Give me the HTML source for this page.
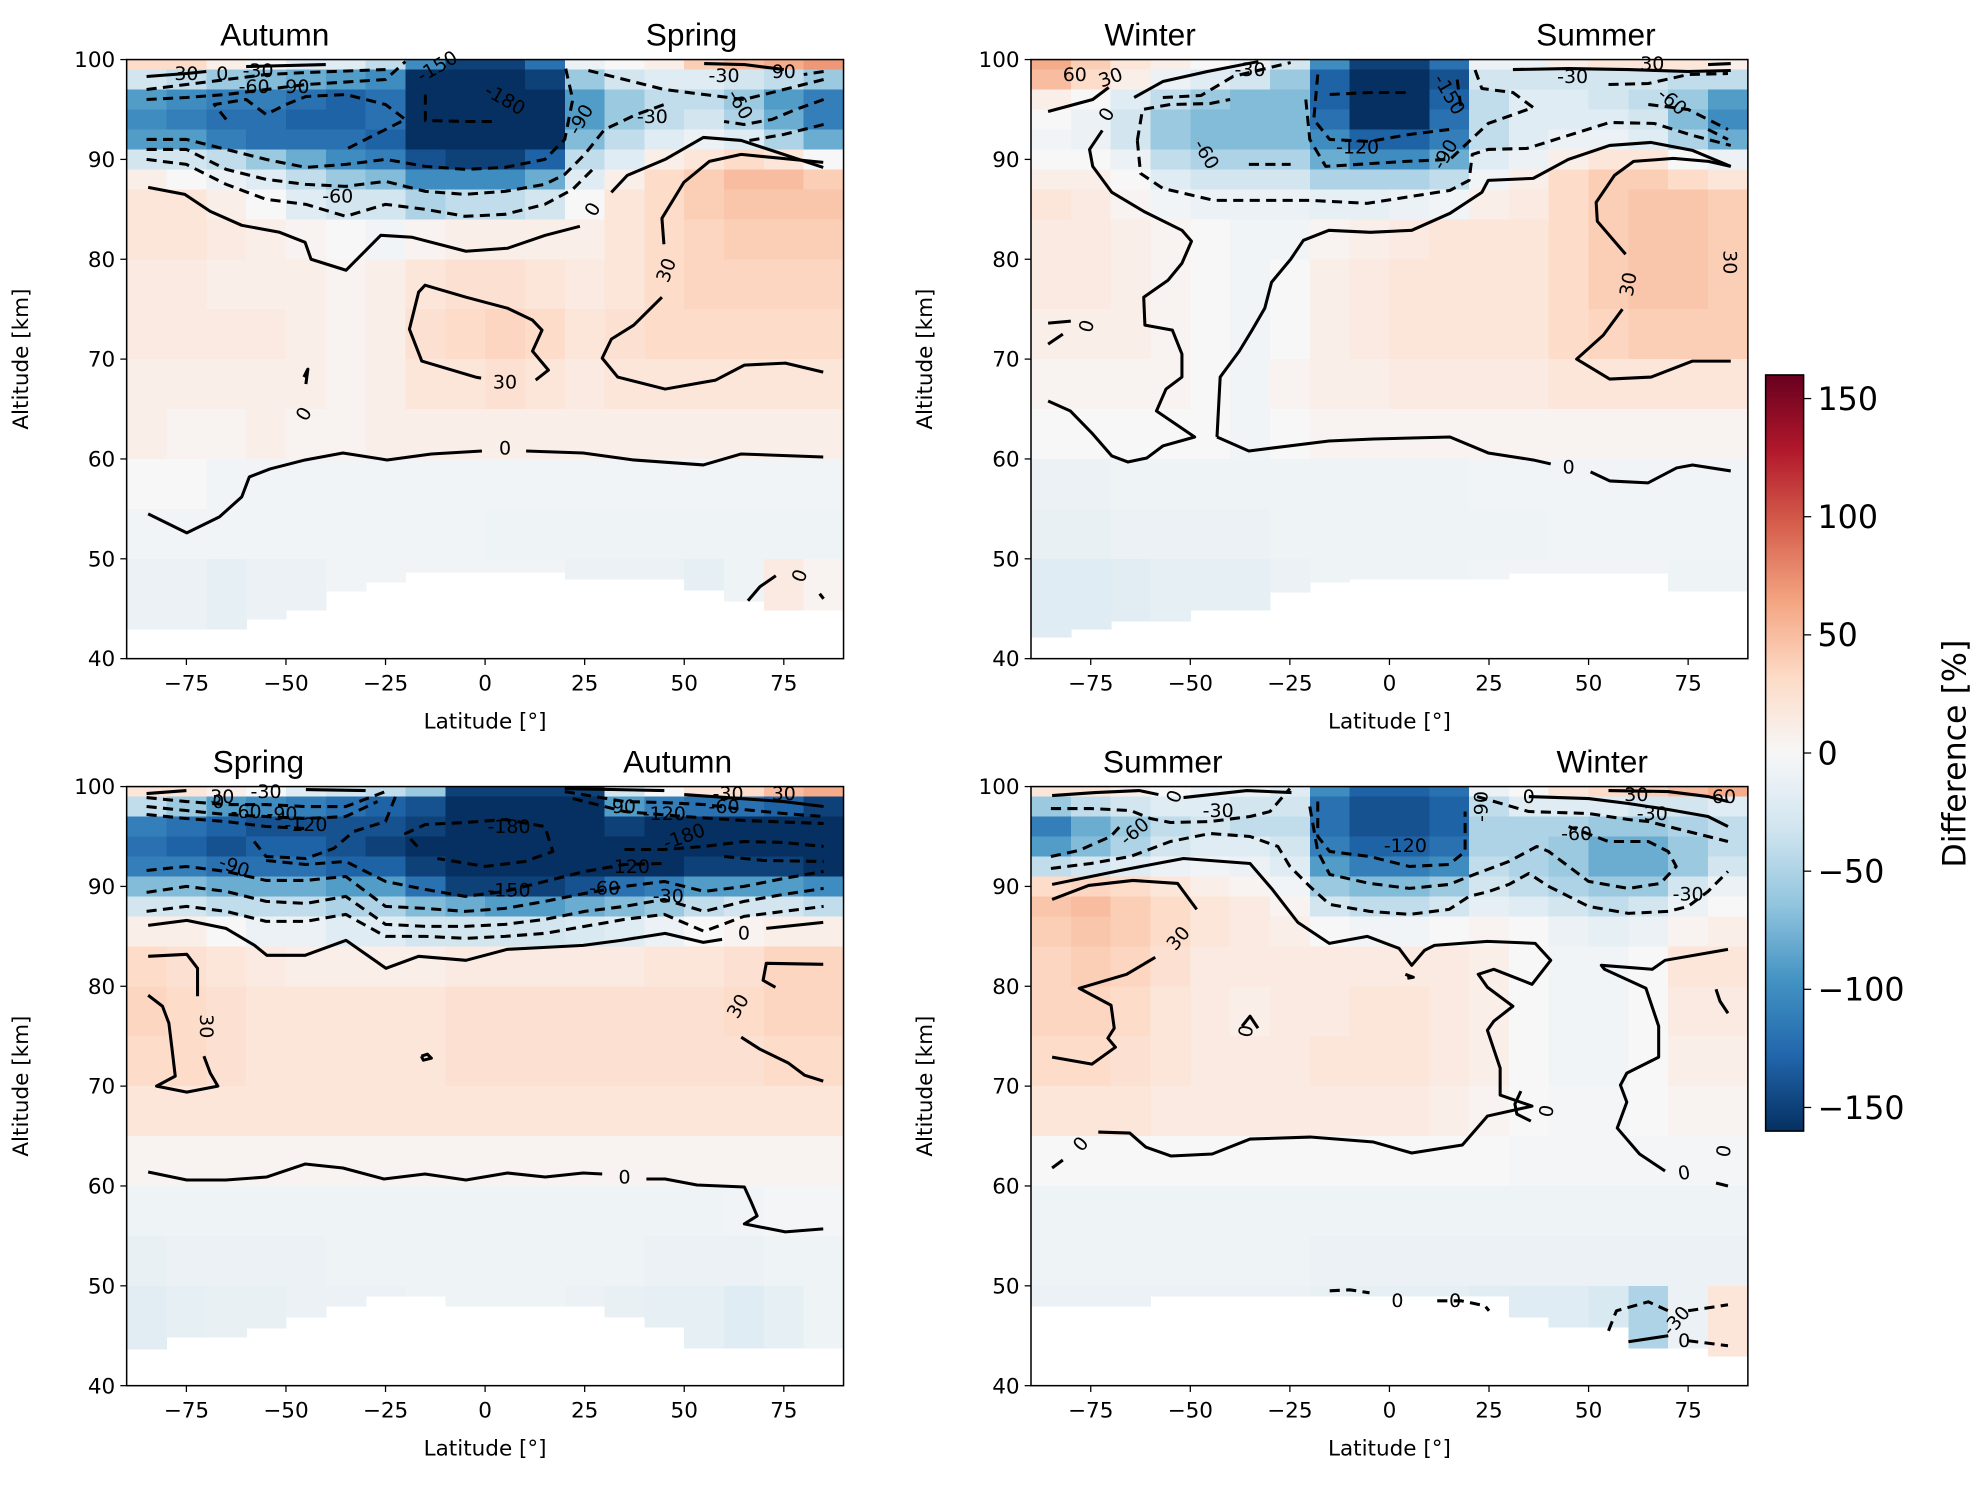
<!DOCTYPE html>
<html><head><meta charset="utf-8">
<style>
html,body{margin:0;padding:0;background:#fff;}
svg{display:block;}
text{font-family:"DejaVu Sans","Liberation Sans",sans-serif;}
</style></head>
<body>
<svg id="fig" width="1986" height="1485" viewBox="0 0 1568 1172.4" xmlns="http://www.w3.org/2000/svg"></svg>
<script>
// ---------- DATA ----------
const altEdges = [100,99,97,95,93,91,89,87,84,80,75,70,65,60,55,50,40];
const latEdges = [-90,-80,-70,-60,-50,-40,-30,-20,-10,0,10,20,30,40,50,60,70,80,90];
const xTicks = [-75,-50,-25,0,25,50,75];
const xTickLabels = ["\u221275","\u221250","\u221225","0","25","50","75"];
const yTicks = [40,50,60,70,80,90,100];
const cbTicks = [150,100,50,0,-50,-100,-150];
const cbTickLabels = ["150","100","50","0","\u221250","\u2212100","\u2212150"];

const minAltA = [43,43,43,44,44.9,46.8,47.7,48.7,48.7,48.7,48.7,48,48,48,46.9,45.8,44.9,44.9];
const minAltB = [42.2,43,43.8,43.8,44.9,44.9,46.7,47.7,48,48,48,48,48.6,48.6,48.6,48.6,46.8,46.8];
const minAltC = [43.7,44.9,44.9,45.8,46.9,48,49,49,48,48,48,48,46.9,45.9,43.8,43.8,43.8,43.8];
const minAltD = [48,48,48,49,49,49,49,49,49,49,49,49,46.9,45.9,45.9,43.8,43.8,43];

const valsA = [
[30,30,10,0,-20,-20,-40,-100,-150,-150,-120,-10,0,10,40,50,60,70],
[-30,-40,-60,-70,-80,-90,-100,-160,-180,-180,-150,-60,-30,-20,-20,-30,-40,-60],
[-90,-100,-110,-110,-120,-130,-120,-170,-190,-190,-170,-90,-60,-40,-40,-60,-90,-110],
[-100,-110,-120,-120,-130,-130,-120,-170,-190,-190,-170,-90,-60,-40,-30,-50,-80,-110],
[-90,-90,-110,-120,-120,-120,-130,-160,-180,-180,-160,-70,-40,-20,-10,-20,-50,-80],
[-30,-30,-40,-60,-80,-100,-110,-140,-150,-150,-130,-40,-20,10,20,30,20,0],
[10,0,-10,-20,-40,-60,-70,-100,-100,-100,-80,-20,10,30,40,50,50,40],
[20,20,10,0,-20,-30,-30,-50,-40,-40,-30,0,20,30,40,45,45,45],
[20,20,15,10,5,0,-5,5,10,10,10,10,20,30,35,40,40,40],
[15,15,10,10,10,5,10,20,25,25,20,15,20,30,35,35,35,35],
[15,15,15,15,10,5,10,25,30,35,30,20,25,30,30,30,30,30],
[10,10,10,10,10,5,10,20,20,25,20,15,20,20,20,20,20,20],
[10,5,5,10,5,5,10,10,10,10,10,10,10,10,10,10,10,10],
[0,0,-5,-5,-5,-5,-5,-5,-5,-5,-5,-5,-5,-5,-5,-5,-5,-5],
[-5,-5,-5,-5,-5,-5,-5,-5,-5,-8,-8,-8,-8,-8,-8,-8,-8,-8],
[-10,-10,-15,-10,-10,-5,-5,-5,-5,-5,-5,-10,-10,-10,-15,-8,15,5]];
const valsB = [
[60,40,20,10,0,-10,-30,-100,-150,-150,-120,-10,-10,10,20,20,20,10],
[50,30,10,-10,-20,-30,-60,-130,-170,-170,-140,-30,-30,-30,-30,-30,-40,-40],
[10,0,-20,-40,-60,-70,-70,-130,-170,-170,-130,-40,-20,-20,-30,-40,-60,-90],
[0,-10,-30,-60,-70,-70,-70,-120,-160,-160,-120,-40,-20,-20,-20,-30,-70,-100],
[-5,-10,-30,-60,-70,-70,-70,-100,-130,-130,-110,-40,-20,-10,-10,-20,-50,-80],
[0,0,-10,-40,-50,-50,-50,-80,-100,-100,-80,-20,-10,10,20,20,0,-10],
[10,10,0,-20,-30,-30,-30,-50,-50,-50,-40,-5,10,30,40,40,30,20],
[20,15,5,-5,-10,-10,-10,-15,-15,-10,-5,10,15,30,40,45,45,40],
[15,15,10,5,0,-5,-5,5,10,15,20,20,20,30,40,45,45,40],
[15,15,10,5,0,-5,0,10,15,20,20,20,20,30,40,45,45,40],
[10,10,10,5,0,-5,0,10,15,20,20,20,20,30,35,40,40,40],
[5,5,5,5,0,-5,5,10,10,15,15,15,15,20,20,20,20,20],
[0,0,0,0,0,-5,0,5,5,5,5,5,5,5,5,5,5,5],
[-10,-10,-8,-8,-8,-8,-8,-8,-8,-8,-8,-5,-5,-5,-5,-5,-5,-5],
[-12,-12,-10,-10,-10,-10,-8,-8,-8,-8,-8,-8,-8,-5,-5,-5,-5,-5],
[-20,-20,-18,-15,-15,-15,-10,-8,-8,-8,-8,-5,-5,-5,-5,-5,-8,-8]];
const valsC = [
[20,20,10,0,-20,-30,-40,-60,-150,-150,-150,-150,-30,0,20,30,50,60],
[-40,-60,-90,-100,-110,-120,-130,-140,-190,-190,-190,-190,-90,-110,-120,-120,-130,-150],
[-110,-120,-130,-140,-140,-140,-140,-150,-200,-200,-200,-200,-150,-160,-170,-170,-170,-170],
[-120,-130,-140,-130,-130,-140,-150,-160,-200,-200,-200,-200,-180,-180,-180,-180,-180,-180],
[-110,-110,-120,-120,-120,-130,-130,-150,-180,-190,-190,-180,-160,-160,-150,-150,-150,-160],
[-70,-70,-80,-80,-80,-90,-90,-120,-150,-150,-150,-140,-120,-110,-90,-90,-90,-100],
[-30,-30,-40,-40,-40,-50,-50,-70,-80,-90,-90,-80,-70,-60,-40,-30,-30,-40],
[10,10,0,-10,-10,-20,-20,-30,-30,-30,-30,-25,-20,-10,0,5,10,10],
[30,25,20,15,10,10,10,10,15,15,15,15,15,20,20,25,35,35],
[35,30,25,20,20,20,20,20,25,25,25,25,25,25,25,30,35,35],
[30,30,25,20,20,20,20,20,25,25,25,25,25,25,25,25,30,30],
[20,20,20,20,20,20,20,20,20,20,20,20,20,20,20,20,20,20],
[5,5,5,5,5,5,5,5,5,5,5,5,5,5,5,5,5,5],
[-8,-8,-8,-8,-8,-8,-8,-8,-8,-8,-8,-8,-8,-8,-8,-5,-3,-3],
[-12,-10,-10,-10,-10,-8,-8,-8,-8,-8,-8,-8,-8,-10,-10,-10,-8,-8],
[-18,-15,-12,-12,-10,-10,-10,-8,-8,-8,-8,-10,-12,-15,-15,-20,-15,-8]];
const valsD = [
[20,20,10,0,-10,-10,-20,-100,-130,-130,-120,-10,0,20,30,40,50,60],
[-60,-40,-30,-20,-20,-30,-30,-120,-140,-140,-130,-40,-20,-20,-20,-30,-30,-20],
[-110,-80,-60,-40,-30,-40,-40,-120,-140,-140,-130,-50,-50,-50,-60,-60,-50,-40],
[-90,-70,-50,-30,-20,-20,-30,-110,-130,-130,-120,-50,-50,-60,-80,-80,-60,-40],
[-40,-30,-20,-10,-5,-10,-20,-90,-110,-110,-100,-40,-50,-60,-80,-80,-60,-30],
[30,35,30,20,10,5,-5,-60,-70,-70,-60,-30,-40,-50,-60,-60,-30,-10],
[45,50,40,30,20,15,5,-30,-40,-40,-30,-15,-20,-30,-40,-30,-10,0],
[40,45,40,30,20,15,10,0,-5,-5,0,5,0,-10,-15,-10,5,10],
[35,40,35,25,15,15,15,15,15,15,15,10,0,-5,-5,0,20,20],
[35,35,30,20,15,10,15,15,20,20,15,10,0,-5,-5,0,15,15],
[30,30,25,20,15,15,15,20,20,20,15,10,0,-5,-5,0,10,10],
[20,20,20,15,15,15,15,15,15,15,10,5,0,-3,-3,0,5,5],
[0,0,0,0,0,0,0,0,0,0,0,0,-3,-3,-3,-3,-3,-3],
[-8,-8,-8,-8,-8,-8,-8,-8,-8,-8,-8,-8,-8,-8,-8,-8,-8,-8],
[-8,-8,-8,-8,-8,-8,-8,-10,-10,-10,-10,-10,-10,-10,-10,-10,-10,-10],
[-10,-10,-10,-10,-10,-10,-10,-12,-15,-15,-15,-18,-20,-20,-25,-50,-10,20]];

// contours: [lat, alt] points
const solidA = [
[[-84.6,54.5],[-74.9,52.6],[-66.7,54.2],[-61.1,56.2],[-59.2,58.2],[-54,59],[-45.2,59.9],[-35.7,60.6],[-24.6,59.9],[-13.5,60.5],[-0.8,60.8]],
[[10.3,60.8],[24.6,60.6],[37.3,59.9],[54.8,59.4],[64.3,60.5],[84.9,60.2]],
[[-84.6,87.2],[-75.4,86.5],[-69,84.8],[-61.1,83.4],[-51.6,82.7],[-45.2,81.7],[-43.7,80],[-34.9,78.9],[-26.2,82.4],[-18.3,82.2],[-4.8,80.8],[5.6,81.1],[15.1,82.4],[23.8,83.3]],
[[31.7,86.7],[35.7,88.4],[45.2,90],[54.8,92.2],[64.3,91.9],[84.9,89.2]],
[[-1,68.1],[-2.4,68.2],[-15.9,69.8],[-19,73],[-16.7,76.7],[-15.1,77.4],[-4.8,76.2],[5.6,75.1],[11.9,73.9],[14.3,72.9],[11.9,70.8],[15.9,68.9],[12.7,67.9]],
[[44.4,76.2],[37.3,73.4],[31.7,72],[29.4,70.1],[33.3,68.2],[45.2,67],[57.9,67.9],[65.1,69.4],[75.4,69.6],[84.9,68.7]],
[[44.9,81.5],[44.4,84.1],[49.9,87.7],[56.3,89.8],[64.3,90.5],[84.9,89.7]],
[[-85,98.3],[-75,98.6],[-70,98.8]],[[-60,99.3],[-40,99.5]],[[55,99.6],[65,99.5],[75,99]],
[[-45,67.5],[-44.5,69],[-45.5,68.2]],[[66,45.8],[69,47.2],[73,48.3]],[[84,46.5],[85,46]]];
const dashA = [
[[-85,91],[-75,91],[-65,89],[-55,88],[-45,87.5],[-35,87.3],[-25,87.8],[-15,86.8],[-5,86.5],[5,86.8],[15,87.5],[20,88.5],[25,90.5],[30,93],[38,94.5],[45,95.5]],
[[-85,90],[-75,89.5],[-65,87.5],[-55,86],[-45,85.5],[-35,84.3],[-25,85.5],[-15,85],[-5,84.3],[5,84.5],[15,85.5],[22,87],[27,89]],
[[-85,92],[-75,92],[-65,91],[-55,90],[-45,89.2],[-35,89.5],[-25,90],[-15,89.3],[-5,89],[5,89.2],[15,90],[20,92],[22,96],[20,99.5]],
[[-15,96.5],[-15,93.9],[-5,93.8],[3,93.8]],
[[-85,97],[-75,97.5],[-65,98],[-55,98.5],[-45,98.7],[-25,99]],
[[-85,96],[-75,96.2],[-65,96.5],[-55,97],[-45,97.5],[-25,98],[-20,99.8]],
[[-65,94],[-68,95.5],[-60,96],[-55,94.5],[-50,95.5],[-45,96.3],[-35,96.5],[-25,95.5],[-20,94],[-25,93],[-35,91]],
[[85,98],[75,97],[65,96],[55,96.5],[45,97],[35,98],[25,99]],
[[85,96],[78,95],[72,94],[65,93.5],[60,93.8]],[[85,93.5],[75,92.5],[65,91.8]],[[85,98.8],[80,98.5]]];
const solidB = [
[[-85.7,65.8],[-80.1,64.8],[-74.5,62.5],[-69.7,60.3],[-65.7,59.7],[-60.9,60.1],[-56.9,61.3],[-48.9,62.2],[-58.5,64.8],[-56.1,67],[-52.1,68.2],[-52.1,70.5],[-54.5,72.9],[-61.4,73.4],[-61.7,76.2],[-55.6,77.9],[-52.1,79.6],[-49.7,81.8],[-52.1,82.9],[-61.7,84.8],[-69.7,86.7],[-74.5,89.3],[-75.3,91],[-72.1,92.9]],
[[-64.1,96.2],[-56.9,97.8],[-45.7,98.8],[-32.9,99.8]],
[[-85.7,94.8],[-74.5,96],[-70.5,97.2]],[[-85.7,73.6],[-80,73.8]],
[[-43.3,62.2],[-35.3,60.8],[-15.2,61.8],[-4,62],[15.2,62.2],[24.8,60.6],[36.1,59.9],[40.5,59.5]],
[[50.5,58.7],[55.3,57.8],[64.9,57.6],[72.1,59.1],[76.1,59.4],[85.7,58.8]],
[[-43.3,62.2],[-42.5,68.2],[-37.7,70.8],[-34.5,72.9],[-31.3,75.1],[-29.6,77.7],[-24.8,80],[-21.6,81.9],[-15.2,82.9],[-4.8,82.7],[5.6,82.9],[15.2,84.6],[23.2,86.7],[24.8,87.9],[36.1,88.1],[44.9,90],[55.3,91.4],[65.7,91.7],[76.1,90.9],[85.7,89.3]],
[[85.7,69.8],[76.1,69.8],[65.7,68.2],[55.3,68],[47,70],[53.7,72.4],[58.5,75]],
[[59.3,80.5],[52.2,83.8],[51.9,85.7],[56.5,88.4],[61.3,89.8],[71.3,90.1],[80.1,89.8],[85.7,89.3]],
[[31,99],[45,99.1],[60,99],[75,98.8],[85.7,98.9]],[[80,99.5],[85.7,99.6]],[[-85.7,71.5],[-82,72.5]]];
const dashB = [
[[-63.3,91.9],[-62.5,88.6],[-56.9,87.1],[-44.1,85.9],[-20,85.9],[-5.6,85.6],[15.2,86.9],[20,87.9],[20.8,90.5],[24.8,91],[34.5,91.1],[44.9,92.4],[55.3,93.7],[66.5,93.6],[76.1,92.4],[85.7,91.4]],
[[-63.3,91.9],[-62,95],[-55,95.5],[-45,95.6],[-40,96]],
[[-56.9,96.2],[-47.3,96.4],[-39.3,98.3],[-24.8,99.7]],
[[-35.3,89.5],[-24.8,89.5]],[[-21,96],[-20,92],[-16,89.3],[4,89.8],[15.2,90],[21.6,92.4],[24.8,93.6],[36.1,95.2],[31,96.7],[23.2,97.1],[21,99.5]],
[[-18,98.5],[-19,94],[-15,92],[-5,91.8],[5,92.5],[15,93]],[[-15,96.5],[-5,96.7],[5,96.7]],[[17,98],[18,95]],
[[55,97.5],[65,97.6],[75,98.5],[85,98.6]],[[65,95.5],[75,95],[80,94],[85,93]],[[80,93],[85,92]]];
const solidC = [
[[-84.6,61.4],[-74.9,60.6],[-65.1,60.6],[-54.8,60.9],[-45.2,62.2],[-35.7,61.8],[-25.4,60.7],[-15.1,61.2],[-4.8,60.6],[5.6,61.3],[15.1,60.9],[24.6,61.3],[29.4,61.2]],
[[40.5,60.7],[45.2,60.7],[53.2,60.1],[65.1,59.9],[66.7,58.5],[68.3,57],[65.1,56.2],[75.4,55.4],[84.9,55.7]],
[[-84.6,86.1],[-74.9,86.6],[-65.1,85.8],[-57.9,84.1],[-54.8,83.1],[-45.2,83.1],[-34.9,84.6],[-24.9,81.8],[-16.7,83],[-4.8,82.6],[5.6,83.7],[15.1,83.9],[24.6,84.1],[34.1,84.6],[45.2,85.3],[54.8,84.4],[59.5,84.7]],
[[70.6,85.8],[84.9,86.4]],
[[-84.6,83],[-74.9,83.2],[-72.2,81.8],[-72.2,79]],
[[-70.6,73],[-69,71.3],[-67.1,70],[-74.9,69.4],[-82.5,70],[-77.8,71],[-78.6,73.7],[-79.4,76.3],[-81,78],[-84.6,79.1]],
[[84.9,82.2],[70.6,82.3],[69.8,80.6],[72.9,79.9]],
[[64.3,74.9],[69,73.7],[76.2,72.3],[80.2,71.1],[84.9,70.5]],
[[-16,73],[-14.5,73.2],[-13.5,72.8],[-15.5,72.6],[-16,73]],
[[-85,99.3],[-75,99.6]],[[-45,99.7],[-30,99.6]],[[20,99.8],[45,99.6]],[[50,99.2],[75,98.5],[85,98]]];
const dashC = [
[[-85,87.5],[-75,88],[-65,87.5],[-55,86.5],[-45,86.5],[-35,87.2],[-25,85],[-15,85],[-5,84.8],[5,85],[15,85.3],[25,86],[35,86.7],[45,87.2],[55,85.5],[65,87],[75,87.5],[85,88]],
[[-85,89.4],[-75,90],[-65,89.5],[-55,88.5],[-45,88.3],[-35,89],[-25,86.2],[-15,86],[-5,86],[5,86.2],[15,86.7],[25,87.5],[35,88],[45,88.7],[55,87.5],[65,88.5],[75,89.2],[85,89.8]],
[[-85,91.6],[-75,92],[-65,91.5],[-55,90.6],[-45,90.6],[-35,91],[-25,88],[-15,87.8],[-5,87.5],[5,87.8],[15,88.5],[25,89.3],[35,90],[45,90.5],[55,89.5],[65,90],[75,90.8],[85,91.5]],
[[-55,92.6],[-45,92.2],[-35,92.5],[-25,90.5],[-15,89.7],[-5,89],[5,89.5],[15,90.5],[25,91.5],[35,92.2],[45,92.3]],
[[-58,94.5],[-55,93],[-45,92.8],[-38,93.8],[-33,95.5],[-25,96.5],[-22,99.5]],
[[-17,94],[-20,95.3],[-15,96.2],[-5,96.4],[5,96.7],[15,96],[17,93.5],[10,92.5],[0,92],[-12,92.8]],
[[-85,98.9],[-75,98.5],[-65,98.2],[-55,98.2],[-45,98],[-35,98],[-25,99.5]],
[[-85,98],[-75,97.6],[-65,97.2],[-55,97],[-45,96.8],[-35,97],[-27,98.5]],
[[-85,97.2],[-75,96.8],[-65,96.5],[-55,96],[-45,95.8]],
[[20,99.5],[35,98.5],[45,98.4],[55,98.2],[65,97.7],[75,97.3],[85,97]],
[[22,98.8],[35,97.5],[50,97],[65,96.6],[85,96.3]],
[[35,93.7],[45,93.7],[55,94],[65,94.5],[75,94.4],[85,94]],[[60,93],[70,92.6],[85,92.5]]];
const solidD = [
[[-84.7,61.8],[-82,62.6]],
[[-73.1,65.4],[-65.2,65.3],[-61.2,63.9],[-54.8,63],[-44.5,63.2],[-35,64.7],[-19.9,64.9],[-4,64.4],[5.6,63.3],[18.3,64.1],[24.6,67],[35.8,68],[27.8,69.1],[27.8,71.8],[26.2,73.7],[24.6,75.6],[26.2,76.5],[31,78],[24.6,79.9],[22.3,81.2],[26.2,81.7],[35.8,80.2],[40.5,82.6],[36.6,84.3],[24.6,84.5],[11.3,84.1],[8.8,83.6],[5.6,82.1],[2.4,83.8],[-5.6,85],[-15.1,84.3],[-23,86.4],[-29.4,89.7],[-35,92.3],[-51.7,92.8],[-67.6,91.6],[-84.7,90.2]],
[[-84.7,99.1],[-73.9,99.4],[-62.8,99.6],[-58,99.2]],[[-51.7,98.9],[-35.8,99.6],[-24.6,99.4]],
[[-84.7,88.7],[-75.5,90.1],[-64.4,90.6],[-53.2,90.3],[-48.4,87.7]],
[[-58.8,82.9],[-66,81.2],[-77.9,79.8],[-69.9,78.1],[-69.1,75.8],[-70.7,74.8],[-68.8,73.9],[-74.7,72.2],[-84.7,72.9]],
[[69.2,61.5],[62.8,63.2],[57.2,65.8],[59.6,68.4],[58,70.1],[59.6,71.3],[67.6,72.9],[67.6,76],[64.4,79.8],[54,81.7],[53.2,82.1],[66,81.7],[69.2,82.6],[85,83.7]],
[[-37,76],[-35,77],[-33,75.8]],[[33,69.5],[31.5,68.2],[32,67.2],[35.5,66.5]],[[4,81.2],[6,80.9],[4.5,80.8]],
[[82,79.7],[83,78.5],[85,77.3]],[[82,60.3],[85,60]],
[[35,99],[50,98.8],[60,98.3],[70,97.7],[80,97],[85,96]],[[55,99.6],[70,99.5],[80,99],[85,98.5]],
[[60,44.4],[70,45]]];
const dashD = [
[[-85,97.8],[-75,97.8],[-65,97.6],[-60,96.8],[-55,96.4],[-45,96.5],[-35,97],[-30,97.5],[-25,99.8]],
[[-85,91.8],[-75,92.3],[-65,93],[-55,94.5],[-45,95.3],[-35,95],[-28,94],[-25,92],[-20,90],[-15,88.2],[-5,87.5],[5,87.2],[15,87.7],[20,89],[25,89.5],[30,90.2],[35,91.3],[40,90],[50,88],[60,87.3],[70,87.5],[75,88],[80,89.5],[85,91.5]],
[[-85,93],[-78,93.6],[-70,95],[-67,96.3]],
[[-20,98],[-18,93.5],[-15,91.2],[-5,90.3],[5,89.8],[15,90.2],[20,91],[30,92.5],[37,94],[40,93.5],[50,90.5],[60,89.8],[68,90.3],[72,92],[70,93.5],[65,94.5],[55,94.5],[45,96]],
[[-18,98.5],[-18,95],[-15,93.5],[-5,93],[5,92],[15,92.2],[19,93.5],[19,97.5]],
[[22,99],[35,97.5],[50,97.3],[60,96.7],[65,96.5],[75,95.5],[85,94.5]],
[[-15,49.5],[-10,49.6],[-5,49.3]],[[12,48.5],[18,48.5],[24,48],[25,47.5]],
[[55,45.5],[57,47.5],[65,48.4],[70,47.5]],[[75,47.5],[85,48.1]],[[75,44.5],[85,44]]];

const labelsA = [["30",-75,98.6,0],["0",-66,98.6,0],["-30",-57,98.9,0],["-60",-58,97.3,0],["-90",-48,97.3,0],["-150",-12,99.3,-30],["-180",5,96,30],["-90",24,94,-60],["0",27,85,-60],["-30",42,94.3,0],["-30",60,98.4,0],["-60",64,95.5,60],["90",75,98.8,0],["-60",-37,86.3,0],["30",5,67.7,0],["30",45.5,78.9,-70],["0",5,61.1,0],["0",-45.5,64.5,-60],["0",79,48.3,-70]];
const labelsB = [["60",-79,98.5,0],["30",-70,98.2,-20],["0",-71,94.5,-60],["-30",-35,99,0],["-60",-46,90.5,60],["-120",-8,91.2,0],["-90",14,90.5,-60],["-150",15,96.5,60],["-30",46,98.3,0],["30",66,99.6,0],["-60",71,95.8,40],["30",60,77.5,-80],["30",85.5,79.7,90],["0",-76,73.3,-75],["0",45,59.2,0]];
const labelsC = [["30",-66,99,0],["0",-67,98.5,0],["-30",-55,99.5,0],["-60",-60,97.5,0],["-90",-51,97.3,0],["-120",-45,96.2,0],["-90",-63,92,20],["-180",6,96,0],["-150",6,89.6,0],["-120",36,92,0],["-60",30,89.8,0],["-30",46,89,0],["-90",34,98,0],["-120",45,97.3,0],["-60",60,98,0],["-30",61,99.3,0],["30",75,99.3,0],["-180",50,95,-20],["0",65,85.3,0],["30",-70,76,90],["30",63.5,78,-60],["0",35,60.9,0]];
const labelsD = [["0",-54,99,-70],["-30",-43,97.6,0],["-60",-64,95.5,-40],["-120",4,94.1,0],["-90",23,98,-90],["0",35,99,0],["30",62,99.2,0],["60",84,99,0],["-30",66,97.3,0],["-60",47,95.3,0],["-30",75,89.2,0],["30",-53,84.8,-50],["0",-36,75.5,-80],["0",39.5,67.5,-80],["0",-77.5,64.2,-50],["0",74,61.3,-10],["0",84,63.5,-80],["0",2,48.5,0],["0",16.5,48.5,0],["-30",72,46.5,-50],["0",74,44.5,0]];

// ---------- RENDER ----------
const NS = "http://www.w3.org/2000/svg";
const svg = document.getElementById("fig");
function mk(tag, attrs, parent){const e=document.createElementNS(NS,tag);for(const k in attrs)e.setAttribute(k,attrs[k]);(parent||svg).appendChild(e);return e;}
const stops = ["#053061","#2166ac","#4393c3","#92c5de","#d1e5f0","#f7f7f7","#fddbc7","#f4a582","#d6604d","#b2182b","#67001f"];
function hex(h){return [parseInt(h.substr(1,2),16),parseInt(h.substr(3,2),16),parseInt(h.substr(5,2),16)];}
function cmap(v){let t=(v+160)/320;t=Math.max(0,Math.min(1,t));const p=t*10;const i=Math.min(9,Math.floor(p));const f=p-i;const a=hex(stops[i]),b=hex(stops[i+1]);
 return "rgb("+a.map((c,k)=>Math.round(c+(b[k]-c)*f)).join(",")+")";}

const panels = [
 {id:"autumn-spring",x0:100,y0:47,vals:valsA,minAlt:minAltA,solid:solidA,dash:dashA,labels:labelsA,t1:"Autumn",t1x:217,t2:"Spring",t2x:546},
 {id:"winter-summer",x0:814,y0:47,vals:valsB,minAlt:minAltB,solid:solidB,dash:dashB,labels:labelsB,t1:"Winter",t1x:908,t2:"Summer",t2x:1260},
 {id:"spring-autumn",x0:100,y0:621,vals:valsC,minAlt:minAltC,solid:solidC,dash:dashC,labels:labelsC,t1:"Spring",t1x:204,t2:"Autumn",t2x:535},
 {id:"summer-winter",x0:814,y0:621,vals:valsD,minAlt:minAltD,solid:solidD,dash:dashD,labels:labelsD,t1:"Summer",t1x:918,t2:"Winter",t2x:1265}];
const W=566,H=473;

panels.forEach(P=>{
 const g=mk("g",{});
 
 
 const xs=lat=>P.x0+(lat+90)/180*W;
 const ys=alt=>P.y0+(100-alt)/60*H;
 const cells=mk("g",{"shape-rendering":"crispEdges"},g);
 
 
 for(let i=0;i<P.vals.length;i++){
  for(let j=0;j<18;j++){
   const hi=altEdges[i];const lo=Math.max(altEdges[i+1],P.minAlt[j]);
   if(lo>=hi)continue;
   const r=mk("rect",{x:xs(latEdges[j]),y:ys(hi),width:xs(latEdges[j+1])-xs(latEdges[j])+0.5,height:ys(lo)-ys(hi)+0.5,fill:cmap(P.vals[i][j])},cells);
   
   
  }
 }
 const cg=mk("g",{fill:"none",stroke:"#000","stroke-width":2.4,"stroke-linejoin":"round"},g);
 
 
 P.solid.forEach(line=>{const p=mk("polyline",{points:line.map(q=>xs(q[0])+","+ys(q[1])).join(" ")},cg);
  
  });
 P.dash.forEach(line=>{const p=mk("polyline",{points:line.map(q=>xs(q[0])+","+ys(q[1])).join(" "),"stroke-dasharray":"8,5"},cg);
  
  });
 P.labels.forEach(L=>{const x=xs(L[1]),y=ys(L[2]);
  const t=mk("text",{x:x,y:y+5,"font-size":15,"text-anchor":"middle",fill:"#000",transform:"rotate("+L[3]+" "+x+" "+y+")"},g);
  t.textContent=L[0];
  
  });
 const fr=mk("rect",{x:P.x0,y:P.y0,width:W,height:H,fill:"none",stroke:"#000","stroke-width":1.2},g);
 
 
 xTicks.forEach((v,k)=>{const x=xs(v);
  mk("line",{x1:x,x2:x,y1:P.y0+H,y2:P.y0+H+5,stroke:"#000","stroke-width":1},g);
  const t=mk("text",{x:x,y:P.y0+H+25,"font-size":17,"text-anchor":"middle"},g);t.textContent=xTickLabels[k];
  
  });
 yTicks.forEach(v=>{const y=ys(v);
  mk("line",{x1:P.x0-5,x2:P.x0,y1:y,y2:y,stroke:"#000","stroke-width":1},g);
  const t=mk("text",{x:P.x0-9,y:y+6,"font-size":17,"text-anchor":"end"},g);t.textContent=v;
  
  });
 const xl=mk("text",{x:P.x0+W/2,y:P.y0+H+55,"font-size":17,"text-anchor":"middle"},g);xl.textContent="Latitude [°]";
 
 
 const cy=P.y0+H/2, cx=P.x0-78;
 const yl=mk("text",{x:cx,y:cy,"font-size":17,"text-anchor":"middle",transform:"rotate(-90 "+cx+" "+cy+")"},g);yl.textContent="Altitude [km]";
 
 
 [[P.t1,P.t1x],[P.t2,P.t2x]].forEach(T=>{const t=mk("text",{x:T[1],y:P.y0-11,"font-size":25,"text-anchor":"middle",style:"font-family:'Liberation Sans',sans-serif"},g);t.textContent=T[0];
  
  });
});

// colorbar
const cb=mk("g",{});


const cbx=1394,cbw=30,cbTop=296,cbBot=893;
const cbs=v=>cbTop+(160-v)/320*(cbBot-cbTop);
const defs=mk("defs",{},cb);
const grad=mk("linearGradient",{id:"cbg",x1:0,y1:0,x2:0,y2:1},defs);
for(let k=0;k<=20;k++){const v=160-k*16;mk("stop",{offset:(k/20),"stop-color":cmap(v)},grad);}
mk("rect",{x:cbx,y:cbTop,width:cbw,height:cbBot-cbTop,fill:"url(#cbg)",stroke:"#000","stroke-width":1.2},cb);
cbTicks.forEach((v,k)=>{const y=cbs(v);
 mk("line",{x1:cbx+cbw,x2:cbx+cbw+6,y1:y,y2:y,stroke:"#000","stroke-width":1},cb);
 const t=mk("text",{x:cbx+cbw+11,y:y+9,"font-size":25},cb);t.textContent=cbTickLabels[k];
 
 });
const cl=mk("text",{x:1552,y:595,"font-size":25,"text-anchor":"middle",transform:"rotate(-90 1552 595)"},cb);
cl.textContent="Difference [%]";


</script>
</body></html>
